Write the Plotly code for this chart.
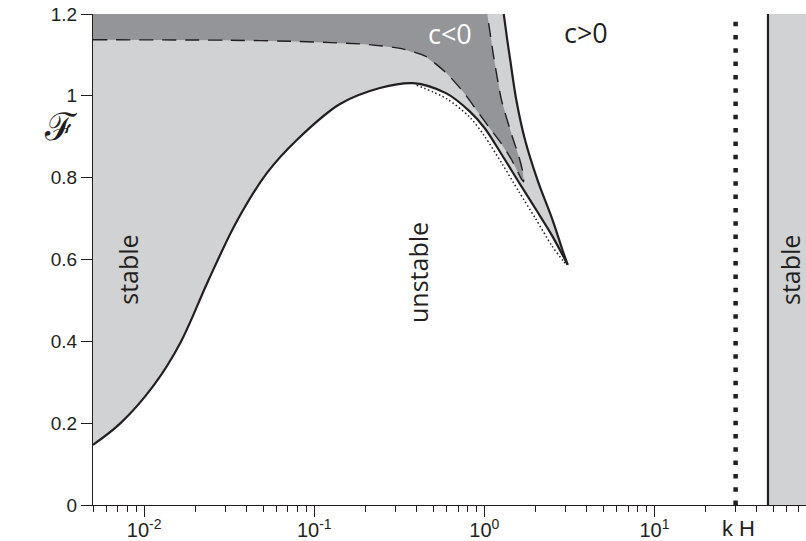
import numpy as np
import plotly.graph_objects as go

# ---------------- data ----------------
# lower marginal-stability curve (solid), from the left edge to the cusp
lower_x = [0.005, 0.00726, 0.0114, 0.0163, 0.0239, 0.0351, 0.0526, 0.0789, 0.1416,
           0.243, 0.381, 0.598, 0.82, 1.0, 1.28, 1.61, 2.02, 2.52, 3.09]
lower_y = [0.147, 0.200, 0.293, 0.396, 0.550, 0.694, 0.811, 0.892, 0.980,
           1.019, 1.031, 1.006, 0.962, 0.922, 0.853, 0.786, 0.721, 0.656, 0.587]
# upper branch (solid) from the cusp to the top
upper_x = [3.09, 2.88, 2.515, 2.054, 1.735, 1.541, 1.42, 1.36, 1.30]
upper_y = [0.587, 0.623, 0.697, 0.794, 0.892, 0.990, 1.087, 1.140, 1.200]
# c = 0 curve (dashed)
dash_x = [0.005, 0.03, 0.08, 0.2, 0.32, 0.45, 0.6, 0.75, 0.9, 1.07, 1.25, 1.44, 1.58, 1.66,
          1.70, 1.69, 1.60, 1.46, 1.26, 1.14, 1.04]
dash_y = [1.137, 1.136, 1.133, 1.126, 1.116, 1.097, 1.055, 1.010, 0.965, 0.922, 0.885, 0.845,
          0.812, 0.795, 0.790, 0.810, 0.850, 0.900, 0.990, 1.090, 1.200]
# dotted approximation curve
dot_x = [0.40, 0.6, 0.82, 1.0, 1.28, 1.6, 2.0, 2.5, 2.9, 3.05]
dot_y = [1.026, 0.993, 0.948, 0.902, 0.832, 0.765, 0.700, 0.633, 0.597, 0.587]
# vertical markers
kH_dotted = 30.0
kH_solid = 46.5
x_right = 10 ** 1.891
x_left = 0.005
y_top = 1.2

major_ticks = [0.01, 0.1, 1, 10]
major_text = ["10<sup>-2</sup>", "10<sup>-1</sup>", "10<sup>0</sup>", "10<sup>1</sup>"]
minor_ticks = [m * 10.0 ** e for e in range(-3, 2) for m in range(2, 10)]
y_ticks = [0, 0.2, 0.4, 0.6, 0.8, 1.0, 1.2]
y_text = ["0", "0.2", "0.4", "0.6", "0.8", "1", "1.2"]

LIGHT = "#d1d2d4"
DARK = "#939598"
INK = "#231f20"

fig = go.Figure()

# light-grey stable region (left)
fx = lower_x + upper_x[1:] + [x_left]
fy = lower_y + upper_y[1:] + [y_top]
fig.add_trace(go.Scatter(x=fx, y=fy, fill="toself", fillcolor=LIGHT, mode="none",
                         hoverinfo="skip", showlegend=False))
# dark-grey c<0 region
fig.add_trace(go.Scatter(x=dash_x + [x_left], y=dash_y + [y_top], fill="toself",
                         fillcolor=DARK, mode="none", hoverinfo="skip", showlegend=False))
# right stable region
fig.add_trace(go.Scatter(x=[kH_solid, 200, 200, kH_solid], y=[0, 0, y_top, y_top],
                         fill="toself", fillcolor=LIGHT, mode="none",
                         hoverinfo="skip", showlegend=False))

# curves
fig.add_trace(go.Scatter(x=dot_x, y=dot_y, mode="lines",
                         line=dict(color=INK, width=1.5, dash="1.5px,2.5px", shape="spline", smoothing=0.8),
                         hoverinfo="skip", showlegend=False))
fig.add_trace(go.Scatter(x=dash_x, y=dash_y, mode="lines",
                         line=dict(color=INK, width=1.4, dash="14px,9px", shape="spline", smoothing=0.6),
                         hoverinfo="skip", showlegend=False))
fig.add_trace(go.Scatter(x=lower_x, y=lower_y, mode="lines",
                         line=dict(color=INK, width=2.2, shape="spline", smoothing=1.0),
                         hoverinfo="skip", showlegend=False))
fig.add_trace(go.Scatter(x=upper_x, y=upper_y, mode="lines",
                         line=dict(color=INK, width=2.2, shape="spline", smoothing=1.0),
                         hoverinfo="skip", showlegend=False))
fig.add_trace(go.Scatter(x=[kH_dotted, kH_dotted], y=[0, y_top], mode="lines",
                         line=dict(color=INK, width=4.5, dash="4.5px,8.8px"),
                         hoverinfo="skip", showlegend=False))
fig.add_trace(go.Scatter(x=[kH_solid, kH_solid], y=[0, y_top], mode="lines",
                         line=dict(color=INK, width=2.2),
                         hoverinfo="skip", showlegend=False))

lab_font = dict(family="Open Sans", size=25, color=INK)
ann = [
    dict(x=np.log10(0.0081), y=0.574, text="stable", textangle=-90, font=lab_font),
    dict(x=np.log10(0.406), y=0.569, text="unstable", textangle=-90, font=lab_font),
    dict(x=np.log10(62.5), y=0.574, text="stable", textangle=-90, font=lab_font),
    dict(x=np.log10(0.627), y=1.152, text="c<0",
         font=dict(family="Open Sans", size=27, color="white")),
    dict(x=np.log10(3.98), y=1.155, text="c>0",
         font=dict(family="Open Sans", size=27, color=INK)),
]
for a in ann:
    a.update(xref="x", yref="y", showarrow=False, xanchor="center", yanchor="middle")
ann.append(dict(x=np.log10(kH_dotted), y=0, xref="x", yref="y", yanchor="top", yshift=-9,
                xshift=3, text="k H", showarrow=False,
                font=dict(family="Liberation Sans", size=22, color=INK)))
ann.append(dict(x=-0.0715, y=0.924, xref="paper", yref="y", text="\u2131", showarrow=False,
                font=dict(family="DejaVu Serif", size=38, color=INK)))

fig.update_layout(
    width=806, height=541,
    margin=dict(l=93, r=0, t=14, b=36),
    paper_bgcolor="white", plot_bgcolor="white",
    annotations=ann,
    xaxis=dict(type="log", range=[np.log10(x_left), np.log10(x_right)],
               automargin=False,
               showline=True, linecolor=INK, linewidth=1.3,
               ticks="outside", ticklen=11, tickwidth=1.3, tickcolor=INK,
               tickvals=major_ticks, ticktext=major_text,
               ticklabelstandoff=-4,
               tickfont=dict(family="Liberation Sans", size=20, color=INK),
               minor=dict(ticks="outside", ticklen=6, tickwidth=1.3, tickcolor=INK,
                          tickvals=minor_ticks, showgrid=False),
               showgrid=False, zeroline=False),
    yaxis=dict(range=[0, y_top], automargin=False,
               showline=True, linecolor=INK, linewidth=1.3,
               ticks="outside", ticklen=11, tickwidth=1.3, tickcolor=INK,
               tickvals=y_ticks, ticktext=y_text,
               tickfont=dict(family="Liberation Sans", size=19, color=INK),
               showgrid=False, zeroline=False),
)

fig.write_html("out.html")
